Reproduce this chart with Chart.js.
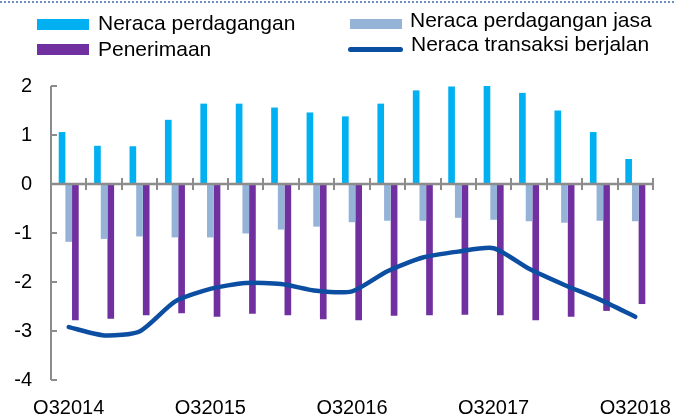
<!DOCTYPE html>
<html>
<head>
<meta charset="utf-8">
<script src="https://cdn.jsdelivr.net/npm/chart.js@4.4.1/dist/chart.umd.min.js"></script>
<style>
    body { margin: 0; background: #fff; }
    #wrap { position: relative; width: 674px; height: 414px; overflow: hidden; font-family: "Liberation Sans", Arial, sans-serif; }
    #topline { position: absolute; left: 0; top: 1px; width: 674px; border-top: 2px dotted #6f8fc4; }
    .key { position: absolute; }
    .txt { position: absolute; font-size: 21px; line-height: 21px; color: #000; white-space: nowrap; }
</style>
</head>
<body>
<div id="wrap">
    <canvas id="chart" width="674" height="414"></canvas>
    <div id="topline"></div>
    <div class="key" style="left:37px;top:19px;width:52px;height:11px;background:#00b0f0"></div>
    <div class="txt" style="left:98px;top:12px">Neraca perdagangan</div>
    <div class="key" style="left:37px;top:44px;width:52px;height:11px;background:#7030a0"></div>
    <div class="txt" style="left:98px;top:38px">Penerimaan</div>
    <div class="key" style="left:350px;top:19px;width:52px;height:10px;background:#95b3d7"></div>
    <div class="txt" style="left:410px;top:9px">Neraca perdagangan jasa</div>
    <div class="key" style="left:348px;top:47px;width:55px;height:5px;border-radius:3px;background:#0c4ea2"></div>
    <div class="txt" style="left:411px;top:33px">Neraca transaksi berjalan</div>
</div>
<script>
"use strict";

const categories = ['Q32014', 'Q42014', 'Q12015', 'Q22015', 'Q32015', 'Q42015', 'Q12016', 'Q22016',
    'Q32016', 'Q42016', 'Q12017', 'Q22017', 'Q32017', 'Q42017', 'Q12018', 'Q22018', 'Q32018'];
const neracaPerdagangan = [1.06, 0.78, 0.77, 1.31, 1.64, 1.64, 1.56, 1.46, 1.38, 1.64, 1.91, 1.99, 2.0, 1.86, 1.50, 1.06, 0.51];
const neracaJasa = [-1.18, -1.12, -1.07, -1.09, -1.09, -1.01, -0.93, -0.87, -0.78, -0.75, -0.75, -0.69, -0.73, -0.76, -0.79, -0.75, -0.76];
const penerimaan = [-2.78, -2.75, -2.68, -2.64, -2.71, -2.65, -2.68, -2.76, -2.78, -2.69, -2.68, -2.67, -2.68, -2.78, -2.71, -2.59, -2.45];
const transaksiBerjalan = [-2.92, -3.09, -3.01, -2.40, -2.14, -2.02, -2.04, -2.18, -2.19, -1.78, -1.50, -1.38, -1.31, -1.73, -2.06, -2.36, -2.71];
const yTicks = [-4, -3, -2, -1, 0, 1, 2];

(function () {
    const axisColor = '#8c8c8c';

    // y axis with inward stubs, and the zero line with its category ticks
    const axisLines = {
        id: 'axisLines',
        afterDatasetsDraw(chart) {
            const ctx = chart.ctx;
            const area = chart.chartArea;
            const x = chart.scales.x;
            const y = chart.scales.y;
            const y0 = y.getPixelForValue(0);
            ctx.save();
            ctx.strokeStyle = axisColor;
            ctx.lineWidth = 2;
            ctx.beginPath();
            ctx.moveTo(area.left, y.getPixelForValue(yTicks[yTicks.length - 1]));
            ctx.lineTo(area.left, y.getPixelForValue(yTicks[0]));
            yTicks.forEach(function (t) {
                const py = y.getPixelForValue(t);
                ctx.moveTo(area.left, py);
                ctx.lineTo(area.left + 6, py);
            });
            ctx.stroke();

            ctx.lineWidth = 2.5;
            ctx.beginPath();
            ctx.moveTo(area.left, y0);
            ctx.lineTo(area.right, y0);
            ctx.stroke();

            ctx.lineWidth = 2;
            ctx.beginPath();
            const w = (x.right - x.left) / categories.length;
            for (let i = 1; i <= categories.length; i++) {
                const px = Math.round(x.left + w * i);
                ctx.moveTo(px, y0 - 6);
                ctx.lineTo(px, y0 + 6);
            }
            ctx.stroke();
            ctx.restore();
        }
    };

    const tickFont = { family: '"Liberation Sans", Arial, sans-serif', size: 20 };

    new Chart(document.getElementById('chart'), {
        type: 'bar',
        data: {
            labels: categories,
            datasets: [{
                type: 'line',
                label: 'Neraca transaksi berjalan',
                data: transaksiBerjalan,
                borderColor: '#0c4ea2',
                borderWidth: 4.5,
                pointRadius: 0,
                tension: 0.22,
                borderCapStyle: 'round',
                borderJoinStyle: 'round',
                order: 0
            }, {
                label: 'Neraca perdagangan',
                data: neracaPerdagangan,
                backgroundColor: '#00b0f0',
                order: 1
            }, {
                label: 'Neraca perdagangan jasa',
                data: neracaJasa,
                backgroundColor: '#95b3d7',
                order: 1
            }, {
                label: 'Penerimaan',
                data: penerimaan,
                backgroundColor: '#7030a0',
                order: 1
            }]
        },
        options: {
            responsive: false,
            animation: false,
            categoryPercentage: 0.565,
            barPercentage: 1,
            layout: { padding: { top: 86, left: 0, right: 0, bottom: 0 } },
            plugins: {
                legend: { display: false },
                tooltip: { enabled: false }
            },
            scales: {
                x: {
                    grid: { display: false, drawTicks: false },
                    border: { display: false },
                    afterFit: function (s) {
                        s.height = 34;
                        s.paddingLeft = 0;
                        s.paddingRight = 21;
                    },
                    ticks: {
                        autoSkip: false,
                        maxRotation: 0,
                        padding: 16,
                        color: '#000',
                        font: tickFont,
                        callback: function (val, i) {
                            return i % 4 === 0 ? categories[i] : '';
                        }
                    }
                },
                y: {
                    min: -4,
                    max: 2,
                    grid: { display: false, drawTicks: false },
                    border: { display: false },
                    afterFit: function (s) { s.width = 51; },
                    ticks: {
                        stepSize: 1,
                        padding: 19,
                        color: '#000',
                        font: tickFont
                    }
                }
            }
        },
        plugins: [axisLines]
    });
})();
</script>
</body>
</html>
